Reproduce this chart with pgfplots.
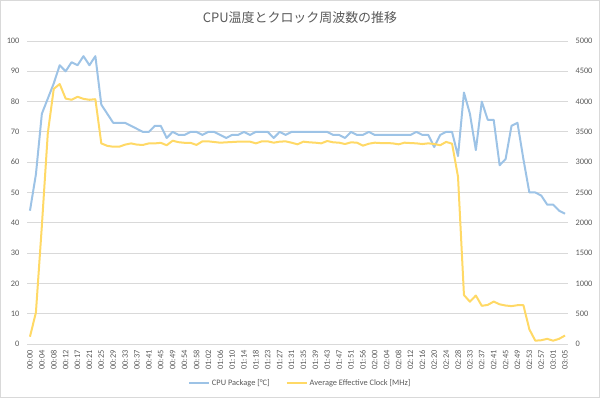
\documentclass[border=0pt]{standalone}
\usepackage{pgfplots}
\pgfplotsset{compat=1.18}
\usepackage{pgfplotstable}
\usepackage{fontspec}
\setmainfont{Carlito}
\newfontfamily\cjk{Noto Sans CJK JP}
\definecolor{tempblue}{HTML}{9DC3E6}
\definecolor{clockyellow}{HTML}{FFD966}
\definecolor{txtgray}{HTML}{595959}
\definecolor{gridgray}{HTML}{D9D9D9}

\pgfplotstableread{
i temp clock
0 44 120
1 56 520
2 76 1950
3 81 3480
4 86 4210
5 92 4290
6 90 4050
7 93 4030
8 92 4080
9 95 4045
10 92 4030
11 95 4040
12 79 3310
13 76 3270
14 73 3255
15 73 3255
16 73 3290
17 72 3310
18 71 3290
19 70 3285
20 70 3310
21 72 3310
22 72 3320
23 68 3280
24 70 3355
25 69 3330
26 69 3320
27 70 3320
28 70 3285
29 69 3344
30 70 3344
31 70 3333
32 69 3322
33 68 3328
34 69 3333
35 69 3339
36 70 3339
37 69 3339
38 70 3311
39 70 3344
40 70 3344
41 68 3322
42 70 3339
43 69 3344
44 70 3322
45 70 3295
46 70 3339
47 70 3328
48 70 3322
49 70 3311
50 70 3350
51 69 3328
52 69 3322
53 68 3300
54 70 3328
55 69 3322
56 69 3273
57 70 3305
58 69 3322
59 69 3316
60 69 3316
61 69 3311
62 69 3295
63 69 3322
64 69 3316
65 70 3311
66 69 3300
67 69 3311
68 65 3300
69 69 3280
70 70 3335
71 70 3305
72 62 2760
73 83 808
74 76 698
75 64 800
76 80 630
77 74 645
78 74 700
79 59 655
80 61 635
81 72 625
82 73 640
83 61 640
84 50 242
85 50 55
86 49 62
87 46 85
88 46 55
89 44 85
90 43 140
}\data

\pgfplotsset{
  base/.style={
    at={(27bp,54bp)}, anchor=south west,
    scale only axis, width=541bp, height=303bp,
    xmin=-0.5, xmax=90.5,
    major tick length=0pt,
    axis line style={draw=none},
    tick label style={font=\fontsize{8.4}{10}\selectfont, text=txtgray},
    /pgf/number format/assume math mode=true,
    /pgf/number format/1000 sep={},
  }
}

\begin{document}
\begin{tikzpicture}
\useasboundingbox (0,0) rectangle (600bp,398bp);
\draw[gridgray, line width=0.8bp] (0.4bp,0.4bp) rectangle (599.6bp,397.6bp);
\node[font=\cjk\fontsize{13}{15}\selectfont, text=txtgray] at (300bp,380bp) {CPU温度とクロック周波数の推移};

\begin{axis}[base,
  ymin=0, ymax=100, ytick={0,10,...,100},
  ymajorgrids, grid style={gridgray, line width=0.8bp},
  y tick label style={xshift=-4bp},
  xtick={0,2,...,90},
  xticklabels={00:00,00:04,00:08,00:12,00:17,00:21,00:25,00:29,00:33,00:37,00:41,00:45,00:49,00:54,00:58,01:02,01:06,01:10,01:14,01:18,01:23,01:27,01:31,01:35,01:39,01:43,01:47,01:51,01:56,02:00,02:04,02:08,02:12,02:16,02:20,02:24,02:28,02:33,02:37,02:41,02:45,02:49,02:53,02:57,03:01,03:05},
  x tick label style={rotate=90, anchor=east, yshift=0bp, xshift=-3bp},
]
\addplot[tempblue, line width=2bp, line join=round] table[x=i, y=temp] {\data};
\end{axis}

\begin{axis}[base,
  ymin=0, ymax=5000, ytick={0,500,...,5000},
  axis y line*=right, axis x line=none,
  y tick label style={xshift=4bp},
  legend style={at={(0.505,-0.129)}, anchor=center, draw=none, fill=none,
    font=\fontsize{8.4}{10}\selectfont, text=txtgray,
    legend columns=2, /tikz/every even column/.append style={column sep=14bp}},
  legend image code/.code={\draw[#1] (0bp,0bp) -- (20bp,0bp);},
]
\addlegendimage{tempblue, line width=2bp}
\addlegendentry{CPU Package [°C]}
\addplot[clockyellow, line width=2bp, line join=round] table[x=i, y=clock] {\data};
\addlegendentry{Average Effective Clock [MHz]}
\end{axis}
\end{tikzpicture}
\end{document}
